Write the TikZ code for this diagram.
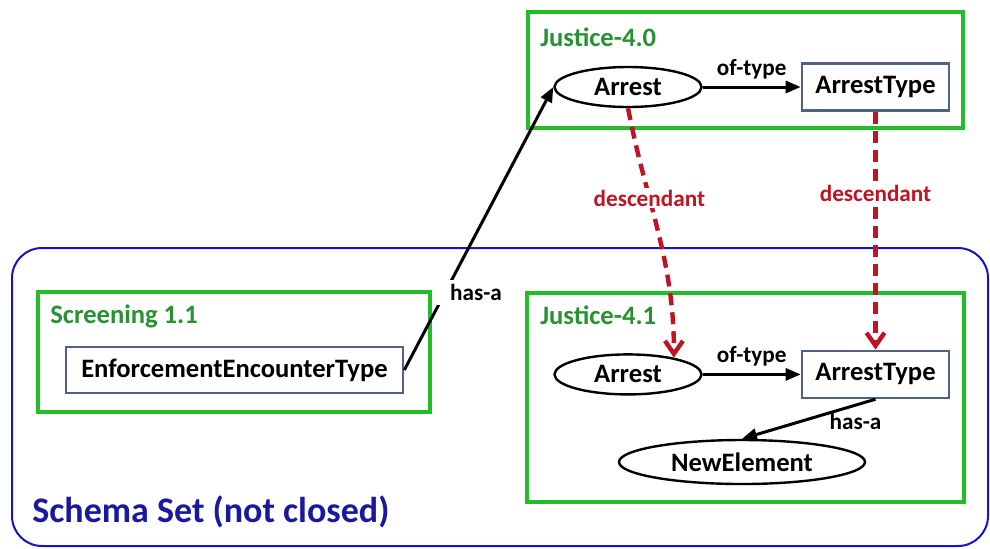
\documentclass[tikz,border=0pt]{standalone}
\usepackage{fontspec}
\setmainfont{Carlito}
\usetikzlibrary{shapes,arrows.meta,positioning}

\definecolor{boxgreen}{RGB}{34,190,40}
\definecolor{labelgreen}{RGB}{40,145,50}
\definecolor{setblue}{RGB}{20,20,200}
\definecolor{settext}{RGB}{25,25,160}
\definecolor{descred}{RGB}{190,20,35}
\definecolor{slate}{RGB}{80,100,130}

\begin{document}
\begin{tikzpicture}[
    x=1pt, y=1pt,
    font=\fontsize{13.3}{15}\selectfont\bfseries,
    elem/.style={ellipse, draw, line width=1.2pt, fill=white, minimum width=73.5pt, minimum height=20pt, inner sep=0pt},
    typebox/.style={rectangle, draw=slate, line width=1.3pt, fill=white, minimum width=73.5pt, minimum height=23.5pt},
    groupbox/.style={draw=boxgreen, line width=2pt},
    grouplabel/.style={text=labelgreen, anchor=west, inner sep=0pt},
    arrow/.style={-{Triangle[length=7.5pt,width=6pt]}, line width=1.5pt},
    desc/.style={-{Straight Barb[length=6.5pt,width=9pt]}, descred, line width=2.2pt, dash pattern=on 6pt off 3.5pt},
    rel/.style={font=\fontsize{11.6}{13}\selectfont\bfseries},
    desclabel/.style={rel, text=descred, fill=white, inner sep=1pt}
]
    \useasboundingbox (0,0) rectangle (495,-274);

    % schema set
    \draw[setblue, line width=1pt, rounded corners=15pt] (6,-124) rectangle (494,-273);
    \node[text=settext, anchor=west, inner sep=0pt, font=\fontsize{18}{20}\selectfont\bfseries] (setlabel) at (16,-256) {Schema Set (not closed)};

    % namespaces
    \draw[groupbox] (264,-6) rectangle (481.5,-64);
    \draw[groupbox] (263.5,-146.5) rectangle (482,-251);
    \draw[groupbox] (19,-146) rectangle (215,-206);
    \node[grouplabel] (j40) at (270,-18.5) {Justice-4.0};
    \node[grouplabel] (j41) at (270,-157.5) {Justice-4.1};
    \node[grouplabel] (scr) at (25,-158) {Screening 1.1};

    % elements and types
    \node[elem] (arrest0) at (314,-43.5) {Arrest};
    \node[typebox, right=49pt of arrest0] (atype0) {ArrestType};
    \node[elem, below=122.5pt of arrest0] (arrest1) {Arrest};
    \node[typebox, right=49pt of arrest1] (atype1) {ArrestType};
    \node[elem, minimum width=123pt, minimum height=22pt] (newel) at (371,-231) {NewElement};
    \node[typebox, minimum width=168.5pt, minimum height=23pt] (eet) at (117.25,-185) {EnforcementEncounterType};

    % relations
    \draw[arrow] (arrest0) -- node[rel, above] {of-type} (atype0);
    \draw[arrow] (arrest1) -- node[rel, above] {of-type} (atype1);
    \draw[arrow] (atype1.south) -- node[rel, pos=0.15, below] {has-a} (newel.north);
    \draw[arrow] (eet.east) -- node[rel, pos=0.26, xshift=16.5pt, yshift=2pt, fill=white, inner xsep=8pt, inner ysep=2pt] {has-a} (arrest0.west);

    % descendants
    \draw[desc] (arrest0.south) to[out=-79, in=90] node[desclabel, pos=0.35] {descendant} (arrest1.20);
    \draw[desc] (atype0.south) -- node[desclabel, pos=0.345] {descendant} (atype1.north);
\end{tikzpicture}
\end{document}
